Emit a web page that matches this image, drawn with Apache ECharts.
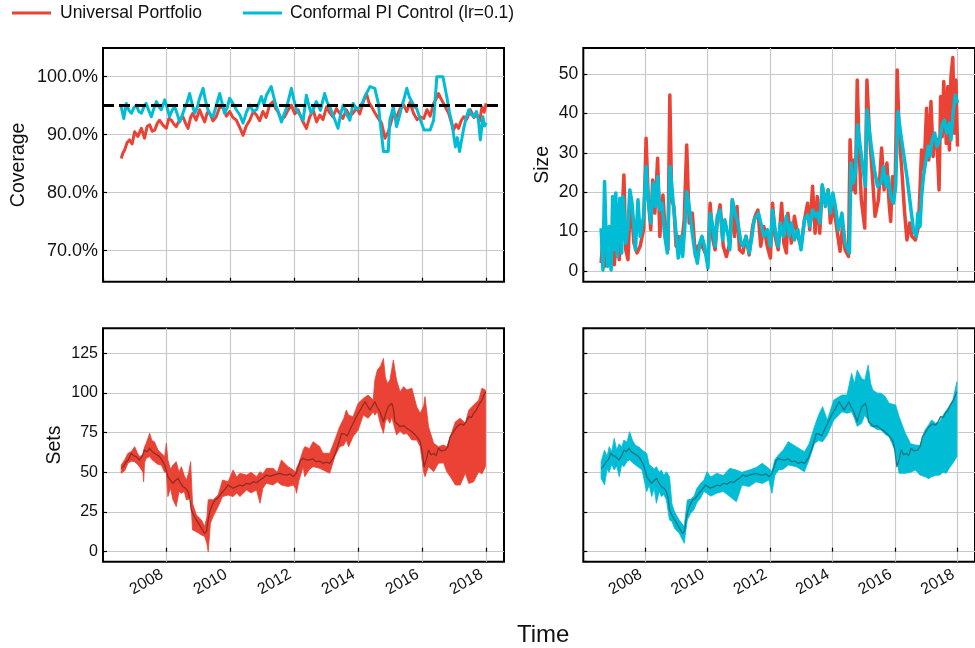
<!DOCTYPE html>
<html>
<head>
<meta charset="utf-8">
<script src="https://cdn.jsdelivr.net/npm/echarts@6/dist/echarts.min.js"></script>
<style>
html,body{margin:0;padding:0;background:#fff;}
#chart{width:975px;height:648px;}
</style>
</head>
<body>
<div id="chart"></div>
<script>
// ---------------- DATA ----------------
const seriesNames = ['Universal Portfolio', 'Conformal PI Control (lr=0.1)'];
const targetCoverage = 95;

// Coverage (%) : [decimal year, value]
const coverageUniversal = [[2006.59,85.9],[2006.64,86.8],[2006.70,87.4],[2006.77,88.6],[2006.85,89.1],[2006.93,88.4],[2007.01,90.5],[2007.11,89.7],[2007.22,91.1],[2007.32,89.4],[2007.40,91.4],[2007.48,91.7],[2007.56,90.6],[2007.64,90.8],[2007.72,92.0],[2007.79,92.5],[2007.90,91.6],[2008.00,91.1],[2008.08,92.8],[2008.16,92.5],[2008.24,91.8],[2008.31,91.4],[2008.42,92.6],[2008.52,93.1],[2008.60,92.0],[2008.68,91.1],[2008.76,93.0],[2008.83,93.7],[2008.93,92.5],[2009.04,94.3],[2009.12,93.2],[2009.20,92.2],[2009.28,93.8],[2009.36,93.7],[2009.46,92.4],[2009.56,93.1],[2009.66,94.6],[2009.77,94.8],[2009.88,93.2],[2009.98,94.0],[2010.08,93.0],[2010.19,92.5],[2010.30,91.2],[2010.40,89.9],[2010.50,91.5],[2010.61,92.5],[2010.72,94.0],[2010.82,93.4],[2010.92,92.4],[2011.02,94.0],[2011.12,93.0],[2011.23,95.1],[2011.34,95.7],[2011.42,94.5],[2011.49,94.0],[2011.60,92.6],[2011.70,93.1],[2011.80,94.2],[2011.91,95.1],[2012.02,93.6],[2012.12,94.3],[2012.25,92.5],[2012.38,91.1],[2012.48,93.0],[2012.59,94.3],[2012.70,92.2],[2012.80,93.4],[2012.90,92.6],[2013.01,94.8],[2013.11,93.8],[2013.21,93.1],[2013.32,94.5],[2013.42,93.7],[2013.52,92.8],[2013.63,94.3],[2013.74,93.2],[2013.84,93.7],[2013.95,94.6],[2014.05,93.6],[2014.16,95.7],[2014.26,97.1],[2014.34,95.5],[2014.42,94.8],[2014.52,93.8],[2014.63,92.8],[2014.73,92.0],[2014.84,89.4],[2014.94,90.5],[2015.02,92.0],[2015.10,93.7],[2015.20,93.0],[2015.31,94.5],[2015.42,95.2],[2015.52,94.0],[2015.62,95.6],[2015.73,93.7],[2015.84,92.6],[2015.94,93.1],[2016.05,92.8],[2016.15,94.3],[2016.25,93.2],[2016.36,95.4],[2016.44,96.2],[2016.51,97.1],[2016.59,96.2],[2016.67,95.4],[2016.75,94.5],[2016.83,93.7],[2016.91,92.2],[2016.98,90.8],[2017.06,91.8],[2017.14,91.1],[2017.22,92.4],[2017.30,93.1],[2017.40,92.7],[2017.51,94.3],[2017.62,93.0],[2017.72,93.4],[2017.80,92.4],[2017.87,94.8],[2017.94,93.9],[2018.00,95.4]];

const coverageConformal = [[2006.59,94.8],[2006.67,92.8],[2006.75,95.4],[2006.83,94.2],[2006.91,93.7],[2006.98,94.6],[2007.06,95.1],[2007.14,94.0],[2007.22,93.7],[2007.30,94.8],[2007.37,95.4],[2007.45,94.2],[2007.53,93.1],[2007.61,94.5],[2007.69,95.7],[2007.77,94.8],[2007.84,94.3],[2007.95,96.0],[2008.03,94.6],[2008.10,93.1],[2008.18,94.2],[2008.26,94.8],[2008.34,93.6],[2008.42,92.2],[2008.50,93.4],[2008.57,94.5],[2008.65,95.6],[2008.73,97.1],[2008.81,95.2],[2008.89,93.7],[2008.97,94.8],[2009.04,96.3],[2009.15,98.0],[2009.22,96.0],[2009.30,94.3],[2009.38,93.4],[2009.46,93.1],[2009.56,95.0],[2009.67,97.1],[2009.75,95.3],[2009.82,93.7],[2009.90,94.6],[2009.98,96.3],[2010.08,95.4],[2010.19,94.3],[2010.30,93.4],[2010.40,92.0],[2010.50,93.8],[2010.61,95.1],[2010.72,94.0],[2010.82,94.3],[2010.97,96.6],[2011.05,95.2],[2011.13,96.8],[2011.28,98.3],[2011.36,96.5],[2011.44,94.8],[2011.52,93.6],[2011.60,92.2],[2011.68,93.5],[2011.75,94.5],[2011.83,96.2],[2011.91,98.0],[2011.99,96.0],[2012.07,94.3],[2012.18,93.4],[2012.28,92.5],[2012.38,96.8],[2012.46,95.0],[2012.53,93.7],[2012.61,94.6],[2012.69,95.7],[2012.82,94.2],[2012.95,97.1],[2013.03,95.6],[2013.11,94.8],[2013.24,93.0],[2013.37,91.1],[2013.45,93.5],[2013.53,95.1],[2013.63,93.6],[2013.74,92.5],[2013.84,95.4],[2013.95,94.4],[2014.05,94.8],[2014.13,95.5],[2014.21,96.6],[2014.37,98.3],[2014.52,98.0],[2014.63,95.4],[2014.68,92.5],[2014.79,87.1],[2014.94,87.1],[2014.99,92.5],[2015.10,94.8],[2015.20,91.4],[2015.28,93.0],[2015.36,94.8],[2015.44,96.3],[2015.52,98.0],[2015.60,96.5],[2015.68,95.7],[2015.76,94.8],[2015.83,94.5],[2015.95,92.5],[2016.06,90.8],[2016.25,90.8],[2016.36,92.5],[2016.46,100.0],[2016.65,100.0],[2016.77,96.6],[2016.85,94.0],[2016.93,92.0],[2017.04,87.9],[2017.10,89.5],[2017.17,87.1],[2017.30,91.1],[2017.38,93.0],[2017.46,94.3],[2017.53,93.5],[2017.61,93.1],[2017.70,94.0],[2017.76,92.5],[2017.82,89.1],[2017.90,93.1],[2017.95,91.5],[2018.00,92.1]];

// Set size : [decimal year, value]
const sizeUniversal = [[2006.59,2.0],[2006.65,8.8],[2006.70,1.2],[2006.80,8.8],[2006.85,2.0],[2006.96,11.3],[2007.01,1.6],[2007.11,10.5],[2007.17,2.9],[2007.25,12.2],[2007.32,24.4],[2007.38,5.4],[2007.45,2.9],[2007.53,18.9],[2007.64,7.1],[2007.74,4.6],[2007.84,6.3],[2007.95,10.5],[2008.03,33.7],[2008.10,18.1],[2008.18,10.5],[2008.24,23.1],[2008.31,14.7],[2008.40,28.6],[2008.47,8.8],[2008.57,19.3],[2008.65,8.8],[2008.73,5.4],[2008.79,44.7],[2008.85,18.1],[2008.92,16.4],[2008.99,6.3],[2009.06,8.8],[2009.15,5.4],[2009.25,13.0],[2009.33,32.0],[2009.41,12.2],[2009.51,14.7],[2009.61,3.7],[2009.69,6.3],[2009.77,7.1],[2009.88,5.4],[2010.01,3.0],[2010.08,17.2],[2010.17,7.9],[2010.24,5.4],[2010.31,13.0],[2010.40,16.8],[2010.50,6.3],[2010.60,3.7],[2010.71,7.1],[2010.79,18.1],[2010.86,8.8],[2010.94,16.4],[2011.02,5.4],[2011.13,4.6],[2011.23,8.8],[2011.33,4.1],[2011.44,11.3],[2011.52,13.9],[2011.61,15.5],[2011.70,6.3],[2011.80,11.3],[2011.91,6.3],[2012.01,3.3],[2012.08,17.2],[2012.16,8.8],[2012.26,5.4],[2012.37,17.2],[2012.44,7.1],[2012.52,4.6],[2012.57,14.7],[2012.68,7.1],[2012.78,13.9],[2012.89,8.8],[2012.99,6.3],[2013.10,13.0],[2013.20,17.2],[2013.27,10.5],[2013.36,21.5],[2013.44,9.6],[2013.51,18.9],[2013.59,9.6],[2013.67,21.5],[2013.77,17.2],[2013.86,20.6],[2013.93,12.2],[2014.04,16.4],[2014.14,10.5],[2014.24,5.0],[2014.32,11.3],[2014.40,5.4],[2014.51,3.7],[2014.56,33.3],[2014.63,20.6],[2014.69,28.2],[2014.73,19.8],[2014.79,48.5],[2014.85,30.7],[2014.92,18.1],[2015.03,10.9],[2015.10,48.5],[2015.18,35.0],[2015.29,22.3],[2015.36,13.9],[2015.47,18.1],[2015.57,31.2],[2015.65,20.6],[2015.74,27.4],[2015.81,17.2],[2015.86,12.6],[2015.92,24.0],[2016.00,20.6],[2016.07,51.0],[2016.13,35.0],[2016.23,24.0],[2016.30,15.5],[2016.38,7.9],[2016.47,12.2],[2016.54,8.8],[2016.65,7.9],[2016.75,11.3],[2016.85,30.7],[2016.93,25.7],[2017.01,41.3],[2017.08,28.2],[2017.15,43.0],[2017.22,29.1],[2017.27,34.1],[2017.34,33.3],[2017.41,20.6],[2017.46,44.3],[2017.51,34.1],[2017.56,48.1],[2017.64,32.4],[2017.69,46.8],[2017.74,30.7],[2017.79,49.3],[2017.85,54.2],[2017.90,35.0],[2017.95,48.5],[2018.00,31.6]];

const sizeConformal = [[2006.59,10.9],[2006.65,0.3],[2006.70,22.7],[2006.75,8.8],[2006.80,1.2],[2006.85,11.3],[2006.91,0.3],[2006.96,18.9],[2007.01,5.4],[2007.06,19.8],[2007.11,3.7],[2007.19,18.5],[2007.25,4.6],[2007.29,18.9],[2007.38,7.1],[2007.45,11.3],[2007.51,20.6],[2007.58,17.2],[2007.64,11.3],[2007.69,5.4],[2007.77,18.1],[2007.84,8.8],[2007.95,13.9],[2008.03,26.5],[2008.10,18.1],[2008.18,12.2],[2008.26,22.3],[2008.33,16.4],[2008.40,24.0],[2008.47,15.5],[2008.54,17.2],[2008.63,8.8],[2008.71,4.6],[2008.80,26.5],[2008.89,18.1],[2008.96,12.2],[2009.06,3.3],[2009.15,8.8],[2009.20,3.7],[2009.27,11.3],[2009.33,20.2],[2009.41,16.4],[2009.51,9.6],[2009.58,5.4],[2009.67,2.0],[2009.75,7.1],[2009.82,8.8],[2009.90,6.3],[2010.01,0.8],[2010.08,14.7],[2010.17,11.3],[2010.24,6.3],[2010.31,13.9],[2010.40,15.5],[2010.48,7.9],[2010.55,13.0],[2010.66,8.8],[2010.71,5.4],[2010.79,18.1],[2010.88,14.7],[2010.97,12.2],[2011.07,7.1],[2011.13,6.3],[2011.23,8.8],[2011.33,4.6],[2011.42,8.8],[2011.49,13.0],[2011.63,14.7],[2011.70,12.2],[2011.80,8.8],[2011.91,10.5],[2012.01,6.3],[2012.08,15.5],[2012.16,10.5],[2012.26,6.3],[2012.33,12.2],[2012.42,8.8],[2012.52,13.9],[2012.61,8.8],[2012.68,12.2],[2012.78,7.9],[2012.89,10.5],[2012.99,5.4],[2013.10,13.0],[2013.20,14.3],[2013.27,11.3],[2013.36,15.5],[2013.44,13.9],[2013.51,14.7],[2013.59,12.2],[2013.67,21.9],[2013.77,16.4],[2013.86,20.6],[2013.93,14.7],[2014.01,19.8],[2014.09,16.4],[2014.19,10.5],[2014.30,14.7],[2014.40,7.1],[2014.54,4.6],[2014.59,27.4],[2014.66,22.3],[2014.73,24.8],[2014.80,37.1],[2014.90,30.7],[2015.05,21.5],[2015.10,40.9],[2015.24,31.6],[2015.34,25.7],[2015.44,21.5],[2015.55,22.3],[2015.63,26.5],[2015.71,21.5],[2015.78,24.0],[2015.86,18.9],[2015.95,17.2],[2016.02,21.5],[2016.09,40.5],[2016.18,35.0],[2016.38,24.0],[2016.59,10.5],[2016.68,8.8],[2016.73,14.7],[2016.80,11.3],[2016.85,18.9],[2016.91,24.0],[2016.99,28.2],[2017.06,31.6],[2017.11,29.1],[2017.19,33.3],[2017.27,35.0],[2017.34,31.6],[2017.43,33.3],[2017.51,37.1],[2017.58,38.3],[2017.66,35.0],[2017.74,37.5],[2017.79,33.3],[2017.87,40.9],[2017.93,44.7],[2018.00,42.6]];

// Realised price (dark line in the Sets panels): [decimal year, value]
const price = [[2006.59,52.5],[2006.67,54.0],[2006.75,56.7],[2006.82,58.0],[2006.90,62.0],[2006.98,60.5],[2007.06,59.9],[2007.16,57.8],[2007.24,60.0],[2007.32,64.0],[2007.40,63.0],[2007.48,65.1],[2007.56,63.0],[2007.63,62.0],[2007.71,61.0],[2007.79,59.9],[2007.87,57.5],[2007.95,54.6],[2008.05,47.3],[2008.13,45.0],[2008.21,43.1],[2008.29,45.0],[2008.37,46.2],[2008.45,43.0],[2008.52,41.0],[2008.60,40.0],[2008.68,37.8],[2008.74,33.0],[2008.78,26.3],[2008.86,23.0],[2008.94,20.0],[2009.02,17.5],[2009.10,14.7],[2009.20,11.6],[2009.26,13.0],[2009.31,20.0],[2009.37,26.0],[2009.45,30.0],[2009.52,32.6],[2009.62,34.0],[2009.72,36.8],[2009.82,39.0],[2009.93,42.0],[2010.01,41.0],[2010.09,40.0],[2010.20,41.0],[2010.30,42.0],[2010.40,41.5],[2010.51,43.1],[2010.62,42.5],[2010.72,44.1],[2010.82,43.5],[2010.93,45.2],[2011.03,46.5],[2011.13,48.3],[2011.24,47.5],[2011.34,48.3],[2011.45,48.8],[2011.55,49.4],[2011.66,48.5],[2011.76,48.3],[2011.87,49.0],[2011.97,47.3],[2012.05,49.0],[2012.13,53.6],[2012.20,57.8],[2012.28,58.8],[2012.38,57.8],[2012.48,57.8],[2012.58,58.5],[2012.69,56.7],[2012.80,57.0],[2012.90,55.7],[2013.00,56.5],[2013.11,55.7],[2013.22,59.0],[2013.32,64.0],[2013.40,69.0],[2013.48,74.6],[2013.58,74.0],[2013.66,73.0],[2013.74,76.7],[2013.87,82.0],[2014.00,87.2],[2014.10,90.5],[2014.21,94.5],[2014.30,91.5],[2014.37,89.3],[2014.45,92.0],[2014.52,94.5],[2014.60,91.0],[2014.68,88.2],[2014.79,81.9],[2014.86,87.0],[2014.94,91.4],[2015.05,93.5],[2015.10,90.0],[2015.15,81.9],[2015.23,80.5],[2015.31,78.8],[2015.42,79.5],[2015.52,77.7],[2015.62,76.5],[2015.73,74.6],[2015.83,72.5],[2015.94,69.3],[2016.00,63.0],[2016.06,53.6],[2016.13,58.0],[2016.20,64.0],[2016.28,61.0],[2016.36,62.0],[2016.44,60.5],[2016.51,65.1],[2016.61,63.5],[2016.72,64.0],[2016.80,66.0],[2016.88,72.5],[2016.98,75.5],[2017.09,78.8],[2017.20,80.5],[2017.30,79.8],[2017.38,82.0],[2017.46,85.1],[2017.54,84.5],[2017.61,87.2],[2017.69,89.0],[2017.77,92.4],[2017.87,95.5],[2017.98,100.8]];

// Prediction sets: [decimal year, lower, upper]
const setsUniversal = [[2006.59,49.4,54.6],[2006.70,51.0,58.0],[2006.80,55.7,62.0],[2006.90,57.0,63.0],[2007.01,56.7,66.2],[2007.10,55.0,62.0],[2007.16,53.6,59.9],[2007.27,50.0,61.0],[2007.29,44.1,64.0],[2007.32,56.0,66.0],[2007.37,58.8,68.3],[2007.48,60.0,74.6],[2007.55,58.0,70.0],[2007.63,56.7,69.3],[2007.74,55.0,64.0],[2007.84,54.6,62.0],[2007.95,50.0,60.0],[2008.00,50.4,68.3],[2008.05,34.7,57.8],[2008.13,40.0,52.0],[2008.21,32.6,54.6],[2008.31,28.4,56.7],[2008.40,38.0,50.0],[2008.47,36.8,53.6],[2008.56,38.0,48.0],[2008.63,32.6,45.2],[2008.70,33.0,50.0],[2008.76,35.0,56.7],[2008.82,13.7,30.5],[2008.94,12.6,23.1],[2009.10,10.5,20.0],[2009.20,9.5,15.8],[2009.27,5.0,22.0],[2009.31,0.0,32.6],[2009.38,18.0,33.0],[2009.46,22.0,32.6],[2009.62,28.4,35.7],[2009.76,34.7,45.2],[2009.93,35.7,44.1],[2010.09,34.7,51.5],[2010.20,37.0,47.0],[2010.30,34.7,49.4],[2010.51,38.9,48.3],[2010.65,37.0,50.0],[2010.82,38.9,47.3],[2010.93,30.5,50.4],[2011.02,40.0,49.0],[2011.13,43.1,52.5],[2011.34,42.0,52.5],[2011.47,44.0,50.0],[2011.60,42.0,57.8],[2011.81,41.0,53.6],[2011.97,42.0,51.5],[2012.04,40.0,50.0],[2012.07,36.8,52.5],[2012.15,45.0,56.0],[2012.28,53.6,64.0],[2012.33,47.3,66.2],[2012.48,52.0,65.0],[2012.59,53.6,69.3],[2012.80,52.5,66.2],[2012.90,51.5,62.0],[2013.11,49.4,62.0],[2013.27,59.9,70.4],[2013.42,66.2,78.8],[2013.55,67.0,84.0],[2013.63,70.4,89.3],[2013.70,66.0,86.0],[2013.84,72.5,85.1],[2014.00,76.7,93.5],[2014.16,86.1,96.6],[2014.31,84.0,98.7],[2014.47,88.2,95.6],[2014.52,86.0,108.0],[2014.60,88.2,114.5],[2014.70,80.0,117.0],[2014.79,74.6,121.8],[2014.85,82.0,110.0],[2014.91,84.0,106.1],[2014.99,80.9,108.0],[2015.05,85.0,115.0],[2015.10,80.9,120.8],[2015.20,73.5,108.2],[2015.31,76.0,100.8],[2015.42,74.0,104.0],[2015.52,74.6,101.9],[2015.68,70.4,103.0],[2015.83,70.4,91.4],[2015.94,66.2,87.2],[2016.05,50.0,92.0],[2016.09,47.3,97.7],[2016.20,53.6,78.8],[2016.36,50.4,68.3],[2016.51,55.7,66.2],[2016.67,56.0,67.2],[2016.77,50.4,66.0],[2016.88,47.3,72.5],[2017.04,42.0,81.9],[2017.19,42.0,84.0],[2017.35,49.4,80.9],[2017.46,43.0,89.3],[2017.61,44.0,92.4],[2017.77,50.4,95.6],[2017.87,49.0,103.0],[2017.98,53.6,101.9]];

const setsConformal = [[2006.59,46.2,56.7],[2006.70,42.0,64.0],[2006.78,52.0,60.0],[2006.85,50.0,66.2],[2006.93,55.0,63.0],[2007.01,51.5,71.4],[2007.09,54.0,64.0],[2007.17,47.3,68.0],[2007.25,55.0,66.0],[2007.32,53.6,70.4],[2007.42,57.0,69.0],[2007.50,57.8,75.6],[2007.60,56.0,70.0],[2007.69,54.6,67.0],[2007.80,53.0,66.0],[2007.90,51.5,64.0],[2008.05,37.8,62.0],[2008.13,42.0,55.0],[2008.21,34.7,53.6],[2008.29,40.0,52.0],[2008.36,30.5,53.6],[2008.45,38.0,50.0],[2008.52,34.7,51.5],[2008.60,36.0,48.0],[2008.68,32.6,50.4],[2008.78,20.0,47.3],[2008.86,19.0,30.0],[2008.94,14.7,25.2],[2009.09,11.6,20.0],[2009.25,5.3,15.8],[2009.35,20.0,32.6],[2009.45,24.0,33.0],[2009.56,26.5,34.7],[2009.66,31.0,40.0],[2009.77,33.6,43.0],[2009.88,38.0,45.0],[2009.98,36.8,50.4],[2010.10,35.0,47.0],[2010.29,36.8,49.4],[2010.50,38.0,48.0],[2010.71,34.7,52.5],[2010.92,31.5,51.5],[2011.10,42.0,50.0],[2011.33,41.0,51.5],[2011.55,44.0,53.0],[2011.75,43.0,55.7],[2011.96,45.2,52.5],[2012.06,36.8,50.4],[2012.15,48.0,58.0],[2012.27,51.5,61.0],[2012.42,52.0,64.0],[2012.58,54.6,69.3],[2012.84,53.6,66.2],[2013.10,50.4,63.0],[2013.25,58.0,68.0],[2013.42,68.0,78.8],[2013.55,70.0,86.0],[2013.68,69.3,91.4],[2013.83,73.5,83.0],[2014.04,83.0,95.6],[2014.30,88.2,98.7],[2014.46,87.2,98.7],[2014.61,88.2,112.4],[2014.70,84.0,106.0],[2014.79,79.0,114.5],[2014.93,80.9,109.2],[2015.03,86.0,108.0],[2015.14,83.0,117.6],[2015.22,79.0,106.0],[2015.29,78.8,101.9],[2015.42,77.0,100.0],[2015.55,76.7,99.8],[2015.68,74.0,98.0],[2015.81,72.5,93.5],[2016.02,63.0,92.4],[2016.13,49.4,85.1],[2016.33,49.4,74.6],[2016.50,50.0,68.0],[2016.65,51.5,67.2],[2016.80,48.3,67.0],[2016.96,47.3,76.7],[2017.08,46.0,80.0],[2017.17,47.3,83.0],[2017.30,48.0,81.0],[2017.43,48.3,82.0],[2017.54,50.0,86.0],[2017.64,49.4,89.0],[2017.75,53.0,92.0],[2017.85,55.7,95.5],[2017.98,59.9,107.1]];

// ---------------- STYLE ----------------
const RED = '#EA4335', CYAN = '#00BCD4';
const DARK_RED = '#962b22', DARK_CYAN = '#15798a';
const FONT = 'Liberation Sans, Arial, Helvetica, sans-serif';
const TXT = '#111111';
const X_MIN = 2006.02, X_MAX = 2018.56;

const chart = echarts.init(document.getElementById('chart'), null, {renderer: 'canvas'});

const grids = [
  {left: 103, top: 48, width: 401, height: 233.7},
  {left: 583.3, top: 48, width: 401.5, height: 233.7},
  {left: 103, top: 328.3, width: 401, height: 233.4},
  {left: 583.3, top: 328.3, width: 401.5, height: 233.4}
].map(g => Object.assign({show: true, borderColor: '#000', borderWidth: 2, backgroundColor: 'transparent', containLabel: false}, g));

const splitLine = {show: true, showMinLine: false, showMaxLine: false, lineStyle: {color: '#c9c9c9', width: 1.2}};
const axisTick = {show: true, inside: true, length: 4, lineStyle: {color: '#000', width: 1.2}};

function xAxis(gi, showLabels) {
  return {
    type: 'value', gridIndex: gi, min: X_MIN, max: X_MAX,
    minInterval: 2, maxInterval: 2,
    axisLine: {show: false}, axisTick: axisTick, splitLine: splitLine,
    axisLabel: {show: showLabels, rotate: 30, margin: 9, padding: [0, 5, 0, 0], fontSize: 16, color: TXT, fontFamily: FONT,
      showMinLabel: false, showMaxLabel: false, formatter: v => String(Math.round(v))}
  };
}
function yAxis(gi, min, max, step, name, nameGap, fmt, showLabels, fs) {
  return {
    type: 'value', gridIndex: gi, min: min, max: max, minInterval: step, maxInterval: step,
    name: name, nameLocation: 'middle', nameRotate: 90, nameGap: nameGap,
    nameTextStyle: {fontSize: 19.5, color: TXT, fontFamily: FONT},
    axisLine: {show: false}, axisTick: axisTick, splitLine: splitLine,
    axisLabel: {show: showLabels, margin: 5, fontSize: fs, color: TXT, fontFamily: FONT,
      showMinLabel: false, showMaxLabel: false, formatter: fmt}
  };
}

function lineSeries(name, data, color, xi, width, z) {
  return {type: 'line', name: name, xAxisIndex: xi, yAxisIndex: xi, data: data,
    showSymbol: false, symbol: 'none', animation: false, z: z || 2,
    lineStyle: {color: color, width: width, join: 'round'}, itemStyle: {color: color}};
}
// Filled band between lower and upper bound, drawn through the axis scales (api.coord)
function bandSeries(band, color, xi, id) {
  return {
    type: 'custom', name: id, xAxisIndex: xi, yAxisIndex: xi, data: band, z: 2,
    encode: {x: 0, y: [1, 2]}, clip: true, animation: false, silent: true,
    renderItem: function (params, api) {
      if (params.dataIndex !== 0) return null;
      const pts = [];
      for (let i = 0; i < band.length; i++) pts.push(api.coord([band[i][0], band[i][2]]));
      for (let i = band.length - 1; i >= 0; i--) pts.push(api.coord([band[i][0], band[i][1]]));
      return {type: 'polygon', shape: {points: pts},
        style: {fill: color, stroke: color, lineWidth: 0.8}};
    }
  };
}

const option = {
  animation: false,
  backgroundColor: '#ffffff',
  textStyle: {fontFamily: FONT},
  grid: grids,
  legend: [
    {left: 7, top: -1, itemWidth: 39, itemHeight: 3, icon: 'rect', selectedMode: false,
      textStyle: {fontSize: 17.5, color: TXT, fontFamily: FONT, padding: [0, 0, 0, 4]},
      data: [{name: seriesNames[0], itemStyle: {color: RED}}]},
    {left: 238, top: -1, itemWidth: 39, itemHeight: 3, icon: 'rect', selectedMode: false,
      textStyle: {fontSize: 17.5, color: TXT, fontFamily: FONT, padding: [0, 0, 0, 3]},
      data: [{name: seriesNames[1], itemStyle: {color: CYAN}}]}
  ],
  xAxis: [xAxis(0, false), xAxis(1, false), xAxis(2, true), xAxis(3, true)],
  yAxis: [
    yAxis(0, 64.66, 104.95, 10, 'Coverage', 74, v => v.toFixed(1) + '%', true, 18),
    yAxis(1, -2.7, 56.6, 10, 'Size', 31, v => String(Math.round(v)), true, 17.5),
    yAxis(2, -6.3, 140.75, 25, 'Sets', 38, v => String(Math.round(v)), true, 16),
    yAxis(3, -6.3, 140.75, 25, '', 0, v => String(Math.round(v)), false, 16)
  ],
  graphic: [{type: 'text', left: 517, top: 623, style: {text: 'Time', font: '24px ' + FONT, fill: TXT}}],
  series: [
    lineSeries(seriesNames[0], coverageUniversal, RED, 0, 3, 2),
    lineSeries(seriesNames[1], coverageConformal, CYAN, 0, 3, 3),
    {type: 'line', name: 'target', xAxisIndex: 0, yAxisIndex: 0, data: [], z: 5, animation: false,
      markLine: {silent: true, symbol: ['none', 'none'], label: {show: false}, animation: false,
        lineStyle: {color: '#000', width: 3, type: [11, 5]},
        data: [{yAxis: targetCoverage}]}},
    lineSeries(seriesNames[0], sizeUniversal, RED, 1, 3.5, 2),
    lineSeries(seriesNames[1], sizeConformal, CYAN, 1, 3.5, 3),
    bandSeries(setsUniversal, RED, 2, 'setsU'),
    lineSeries('price_u', price, DARK_RED, 2, 1.3, 4),
    bandSeries(setsConformal, CYAN, 3, 'setsC'),
    lineSeries('price_c', price, DARK_CYAN, 3, 1.3, 4)
  ]
};
chart.setOption(option);
</script>
</body>
</html>
